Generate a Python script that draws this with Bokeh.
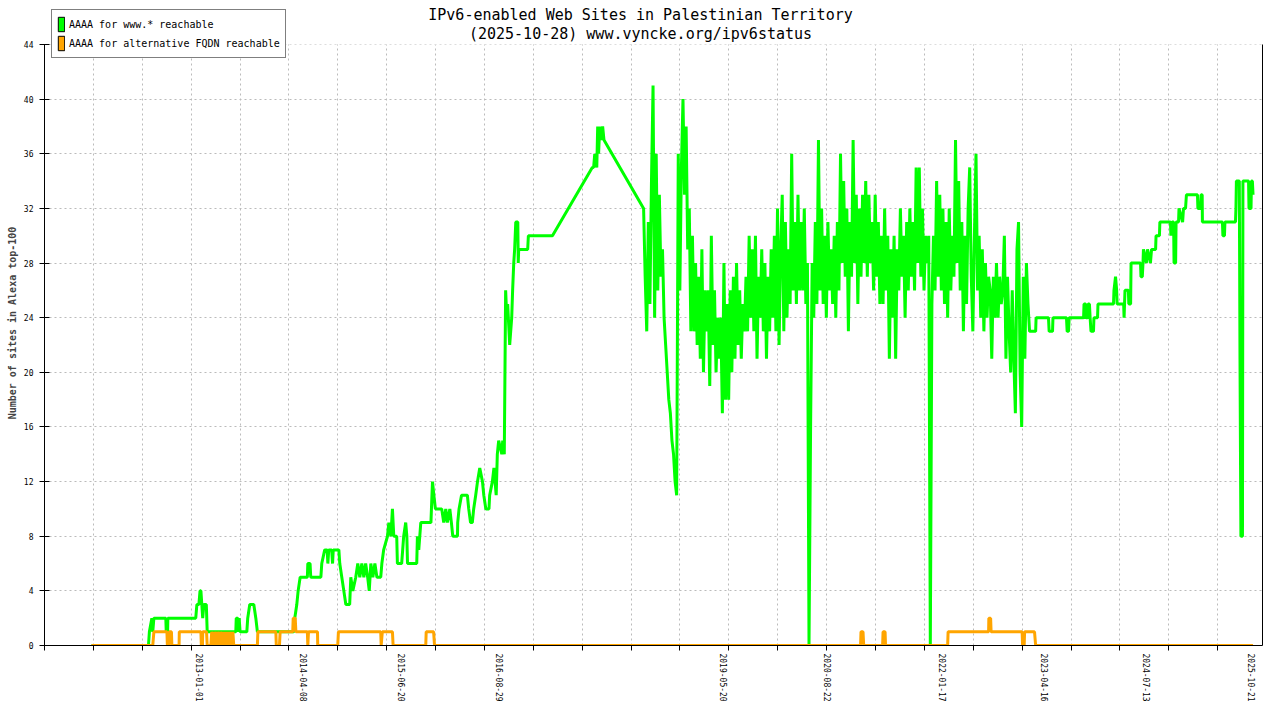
import numpy as np
import pandas as pd
from bokeh.plotting import figure
from bokeh.models import (Range1d, FixedTicker, DatetimeTickFormatter, LinearAxis,
                          Legend, LegendItem, Label, ColumnDataSource, BoxAnnotation)
from bokeh.embed import file_html
from bokeh.resources import INLINE

# ---------------- data (days counted from 2013-01-01) ----------------
BASE_DATE = "2013-01-01"

# AAAA for www.* reachable : early part (explicit samples)
www_days_early = [-478, -225, -221, -210, -206, -201, -148, -146, -140, -139,
                  -15, -10, -1, 4, 8, 12, 16, 21, 32, 36,
                  163, 165, 172, 174, 178, 182, 212, 216, 225, 243,
                  252, 259, 421, 425, 434, 440, 449, 481, 483, 493,
                  496, 541, 545, 558, 569, 572, 576, 589, 593, 596,
                  621, 625, 634, 643, 652, 669, 674, 683, 696, 705,
                  714, 723, 732, 740, 749, 756, 763, 772, 781, 790,
                  807, 812, 820, 837, 843, 852, 859, 865, 878, 881,
                  900, 909, 918, 923, 926, 967, 970, 976, 985, 1030,
                  1037, 1043, 1050, 1078, 1087, 1096, 1103, 1114, 1121, 1127,
                  1148, 1149, 1155, 1166, 1192, 1198, 1206, 1214, 1220, 1229,
                  1237, 1247, 1259, 1265, 1274, 1288, 1291, 1303, 1310, 1320,
                  1325, 1331, 1345, 1349, 1356, 1362, 1367, 1371, 1380, 1389,
                  1393, 1398, 1402, 1407, 1416, 1418, 1420, 1460, 1463, 1570,
                  1747, 1753, 1758, 1767, 1771, 1775, 1780, 1789, 1793, 1799]
www_vals_early = [0, 0, 1, 2, 1, 2, 2, 1, 1, 2,
                  2, 3, 3, 4, 4, 3, 2, 3, 3, 1,
                  1, 2, 2, 1, 2, 1, 1, 2, 3, 3,
                  2, 1, 1, 2, 3, 4, 5, 5, 6, 6,
                  5, 5, 6, 7, 7, 6, 7, 7, 6, 7,
                  7, 6, 5, 4, 3, 3, 5, 4, 5, 6,
                  5, 6, 5, 6, 5, 4, 6, 5, 6, 5,
                  5, 6, 7, 8, 9, 8, 10, 8, 8, 6,
                  6, 8, 9, 8, 6, 6, 8, 7, 9, 9,
                  12, 11, 10, 10, 9, 10, 9, 10, 9, 8,
                  8, 9, 10, 11, 11, 10, 9, 9, 10, 11,
                  12, 13, 12, 11, 10, 10, 11, 12, 13, 11,
                  14, 15, 14, 15, 14, 26, 24, 25, 22, 24,
                  26, 28, 29, 31, 31, 28, 29, 29, 30, 30,
                  35, 35, 36, 35, 38, 36, 38, 37, 38, 37]

# AAAA for www.* reachable : weekly samples 2018-05 .. 2023-02
www_weekly_first_day = 1975
www_weekly_step_days = 7
www_vals_weekly = [32, 27, 23, 31, 25, 34, 41, 24, 36, 26,
                   33, 27, 29, 24, 22, 20, 18, 17, 15, 14,
                   12, 11, 36, 26, 35, 40, 33, 38, 29, 32,
                   23, 30, 23, 28, 22, 27, 21, 29, 20, 26,
                   23, 26, 19, 30, 22, 26, 20, 24, 21, 24,
                   17, 28, 18, 25, 18, 26, 20, 27, 21, 28,
                   22, 26, 21, 25, 23, 27, 23, 30, 24, 29,
                   23, 30, 21, 27, 24, 29, 23, 28, 21, 27,
                   23, 29, 24, 30, 23, 32, 22, 29, 33, 23,
                   31, 24, 29, 25, 36, 26, 31, 25, 33, 26,
                   31, 26, 32, 25, 28, 0, 16, 28, 24, 31,
                   25, 37, 26, 32, 25, 30, 24, 31, 26, 29,
                   25, 30, 24, 31, 26, 36, 28, 34, 27, 32,
                   23, 31, 27, 37, 28, 33, 25, 32, 27, 33,
                   28, 34, 27, 33, 28, 31, 26, 33, 27, 31,
                   25, 30, 25, 32, 26, 30, 21, 29, 24, 30,
                   21, 29, 26, 32, 27, 30, 24, 31, 26, 32,
                   27, 31, 26, 35, 28, 35, 27, 32, 26, 30,
                   28, 30, 0, 25, 30, 26, 34, 27, 33, 26,
                   32, 25, 31, 24, 32, 26, 30, 27, 37, 28,
                   34, 26, 31, 23, 30, 25, 32, 35, 27, 23,
                   30, 36, 26, 30, 24, 29, 23, 28, 24, 27,
                   26, 21, 27, 24, 28, 24, 27, 25, 26, 30,
                   21, 27, 23, 20, 26, 21, 17, 29, 31, 20,
                   16, 27, 21, 28, 25, 23]

# AAAA for www.* reachable : late part (explicit samples)
www_days_late = [3717, 3719, 3774, 3777, 3792, 3794, 3854, 3857, 3863, 3866,
                 3930, 3932, 3939, 3941, 3948, 3950, 3956, 3959, 3963, 3974,
                 3976, 3992, 3994, 4063, 4065, 4072, 4077, 4079, 4108, 4110,
                 4114, 4129, 4131, 4139, 4141, 4183, 4185, 4191, 4194, 4196,
                 4209, 4214, 4227, 4232, 4250, 4252, 4267, 4269, 4316, 4318,
                 4323, 4330, 4332, 4339, 4341, 4352, 4354, 4370, 4374, 4383,
                 4387, 4436, 4438, 4449, 4452, 4457, 4458, 4547, 4549, 4556,
                 4558, 4605, 4607, 4609, 4622, 4625, 4629, 4636, 4638, 4663,
                 4665, 4674, 4676, 4680, 4683]
www_vals_late = [23, 24, 24, 23, 23, 24, 24, 23, 23, 24,
                 24, 25, 25, 24, 24, 25, 25, 24, 23, 23,
                 24, 24, 25, 25, 26, 27, 26, 25, 25, 24,
                 26, 26, 25, 25, 28, 28, 27, 27, 28, 29,
                 28, 29, 28, 29, 29, 30, 30, 31, 31, 30,
                 31, 31, 28, 28, 31, 31, 32, 31, 32, 32,
                 33, 33, 32, 32, 33, 33, 31, 31, 30, 30,
                 31, 31, 32, 34, 34, 21, 8, 8, 34, 34,
                 32, 32, 34, 34, 33]

# AAAA for alternative FQDN reachable
alt_days = [-478, -206, -201, -143, -141, -135, -133, -123, -121, -89,
            -88, 8, 10, 15, 16, 33, 36, 52, 56, 65,
            70, 79, 83, 92, 96, 105, 110, 114, 119, 125,
            130, 136, 141, 145, 150, 154, 259, 261, 341, 343,
            357, 360, 416, 418, 427, 430, 481, 483, 486, 526,
            527, 616, 619, 807, 809, 814, 859, 862, 1007, 1009,
            1042, 1046, 2939, 2941, 2950, 2953, 3037, 3039, 3048, 3050,
            3326, 3328, 3508, 3509, 3517, 3519, 3657, 3659, 3666, 3668,
            3712, 3717, 4683]
alt_vals = [0, 0, 1, 1, 0, 0, 1, 1, 0, 0,
            1, 1, 0, 0, 1, 1, 0, 0, 1, 0,
            1, 0, 1, 0, 1, 0, 1, 0, 1, 0,
            1, 0, 1, 0, 1, 0, 0, 1, 1, 0,
            0, 1, 1, 2, 2, 1, 1, 0, 1, 1,
            0, 0, 1, 1, 0, 1, 1, 0, 0, 1,
            1, 0, 0, 1, 1, 0, 0, 1, 1, 0,
            0, 1, 1, 2, 2, 1, 1, 0, 0, 1,
            1, 0, 0]

x_tick_labels = ["2013-01-01", "2014-04-08", "2015-06-20", "2016-08-29", "2019-05-20",
                 "2020-08-22", "2022-01-17", "2023-04-16", "2024-07-13", "2025-10-21"]
y_ticks = [0, 4, 8, 12, 16, 20, 24, 28, 32, 36, 40, 44]
Y_MAX = 44
x_start_date = "2011-02-14"
x_end_date = "2025-12-09"
grid_step_days = 217.2

title_line1 = "IPv6-enabled Web Sites in Palestinian Territory"
title_line2 = "(2025-10-28) www.vyncke.org/ipv6status"
y_label = "Number of sites in Alexa top-100"
legend_www = "AAAA for www.* reachable"
legend_alt = "AAAA for alternative FQDN reachable"

GREEN = "#00ff00"
ORANGE = "#ffa500"
MONO = "DejaVu Sans Mono"

assert len(www_days_early) == len(www_vals_early)
assert len(www_days_late) == len(www_vals_late)
assert len(alt_days) == len(alt_vals)

# ---------------- layout constants ----------------
W, H = 1264, 704
BORDER_LEFT, BORDER_RIGHT, BORDER_BOTTOM = 44, 2, 59
TOP_GAP = 44                    # pixels between canvas top and the 44 grid line
FRAME_H = H - BORDER_BOTTOM     # frame reaches the canvas top
y_top = Y_MAX * FRAME_H / (FRAME_H - TOP_GAP)

# ---------------- build ----------------
base = pd.Timestamp(BASE_DATE)


def to_dt(days):
    return base + pd.to_timedelta(np.asarray(days, dtype=float), unit="D")


def ms(ts):
    return pd.Timestamp(ts).value / 1e6


weekly_days = [www_weekly_first_day + www_weekly_step_days * i for i in range(len(www_vals_weekly))]
www_days = list(www_days_early) + weekly_days + list(www_days_late)
www_vals = list(www_vals_early) + list(www_vals_weekly) + list(www_vals_late)

www_src = ColumnDataSource(dict(x=to_dt(www_days), y=www_vals))
alt_src = ColumnDataSource(dict(x=to_dt(alt_days), y=alt_vals))

x0 = ms(x_start_date)
x1 = ms(x_end_date)
step_ms = grid_step_days * 86400000.0
grid_ticks = list(np.arange(x0, x1 + 1, step_ms))
label_ticks = [ms(d) for d in x_tick_labels]

p = figure(width=W, height=H, x_axis_type="datetime",
           x_range=Range1d(x0, x1), y_range=Range1d(0, y_top),
           output_backend="svg", toolbar_location=None, title=None,
           min_border_left=BORDER_LEFT, min_border_right=BORDER_RIGHT,
           min_border_top=0, min_border_bottom=BORDER_BOTTOM)
p.background_fill_color = "white"
p.border_fill_color = "white"
p.outline_line_color = None

# x axis: date labels at data dates, small ticks at regular grid positions
xa = p.xaxis[0]
xa.ticker = FixedTicker(ticks=label_ticks, minor_ticks=grid_ticks)
fmt = "%Y-%m-%d"
xa.formatter = DatetimeTickFormatter(microseconds=fmt, milliseconds=fmt, seconds=fmt, minsec=fmt,
                                     minutes=fmt, hourmin=fmt, hours=fmt, days=fmt,
                                     months=fmt, years=fmt)
xa.major_label_orientation = "vertical"
xa.major_tick_line_color = None
xa.major_tick_out = 0
xa.major_tick_in = 0
xa.minor_tick_line_color = "black"
xa.minor_tick_out = 5
xa.minor_tick_in = 0
xa.major_label_standoff = 3
xa.axis_label_standoff = 0
xa.major_label_text_font = MONO
xa.major_label_text_font_size = "8px"
xa.major_label_text_color = "black"
xa.axis_line_color = "black"

ya = p.yaxis[0]
ya.ticker = FixedTicker(ticks=y_ticks)
ya.bounds = (0, Y_MAX)
ya.major_tick_in = 5
ya.major_tick_out = 5
ya.minor_tick_line_color = None
ya.major_label_standoff = 6
ya.major_label_text_font = MONO
ya.major_label_text_font_size = "8px"
ya.major_label_text_color = "black"
ya.axis_line_color = "black"
ya.axis_label = y_label
ya.axis_label_text_font = MONO
ya.axis_label_text_font_size = "10px"
ya.axis_label_text_font_style = "bold"
ya.axis_label_standoff = 3

# right border line
ra = LinearAxis(ticker=FixedTicker(ticks=[]), bounds=(0, Y_MAX),
                major_label_text_font_size="0px", major_label_standoff=0,
                major_tick_in=0, major_tick_out=0, axis_label_standoff=0,
                major_tick_line_color=None, minor_tick_line_color=None,
                axis_line_color="black")
p.add_layout(ra, "right")

p.xgrid.ticker = FixedTicker(ticks=grid_ticks)
for g in (p.xgrid[0], p.ygrid[0]):
    g.grid_line_color = "#bbbbbb"
    g.grid_line_dash = "2 3"
    g.grid_line_width = 1

# hide the grid above the top value
p.add_layout(BoxAnnotation(bottom=Y_MAX, fill_color="white", fill_alpha=1.0,
                           line_color=None, level="underlay"))

p.line("x", "y", source=www_src, line_color=GREEN, line_width=3, line_join="bevel")
p.line("x", "y", source=alt_src, line_color=ORANGE, line_width=3, line_join="bevel")

# legend swatches (renderers with a single non-drawable point, used only for the legend)
nan = float("nan")
sw_g = p.quad(left=[nan], right=[nan], top=[nan], bottom=[nan],
              fill_color=GREEN, line_color="black", line_width=1)
sw_o = p.quad(left=[nan], right=[nan], top=[nan], bottom=[nan],
              fill_color=ORANGE, line_color="black", line_width=1)
legend = Legend(items=[LegendItem(label=legend_www, renderers=[sw_g]),
                       LegendItem(label=legend_alt, renderers=[sw_o])],
                location=(7, FRAME_H - 58), orientation="vertical",
                glyph_width=8, glyph_height=18, label_height=16, label_standoff=4,
                spacing=1, padding=5, margin=0,
                label_text_font=MONO, label_text_font_size="10px", label_text_color="black",
                border_line_color="black", border_line_width=1,
                background_fill_color="white", background_fill_alpha=1.0)
p.add_layout(legend, "center")

title_x = 640 - BORDER_LEFT
p.add_layout(Label(x=title_x, y=FRAME_H - 14.5, x_units="screen", y_units="screen",
                   text=title_line1, text_align="center", text_baseline="alphabetic",
                   text_font=MONO, text_font_size="15px", text_color="black"))
p.add_layout(Label(x=title_x, y=FRAME_H - 33.5, x_units="screen", y_units="screen",
                   text=title_line2, text_align="center", text_baseline="alphabetic",
                   text_font=MONO, text_font_size="15px", text_color="black"))

open("out.html", "w").write(file_html(p, INLINE))
